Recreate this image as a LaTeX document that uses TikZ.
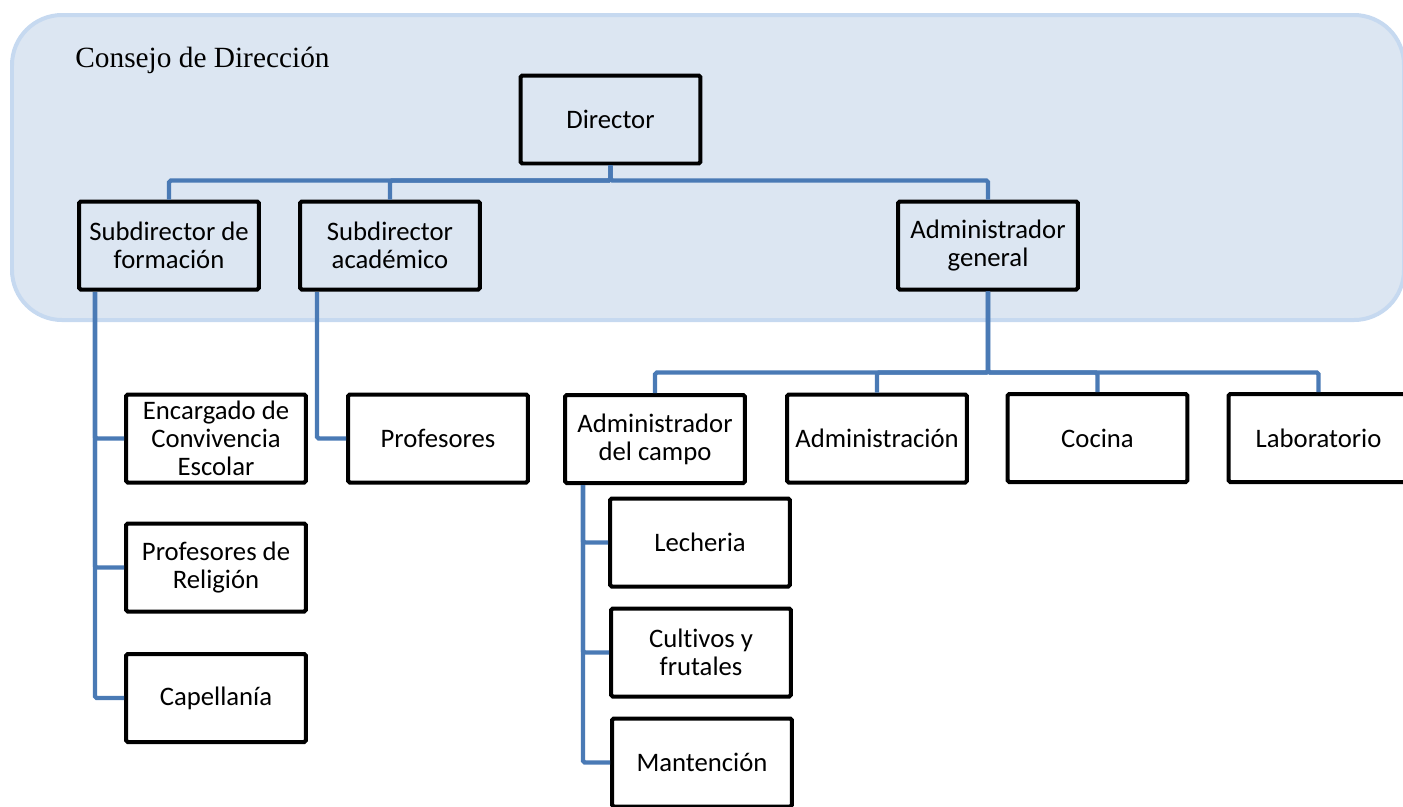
\documentclass[tikz,border=0pt]{standalone}
\usepackage{fontspec}
\setmainfont[Ligatures=NoCommon]{Carlito}
\newfontfamily\titlefont{Liberation Serif}
\usepackage{tikz}
\usetikzlibrary{positioning,calc}
\definecolor{linkblue}{RGB}{74,122,181}
\definecolor{councilfill}{RGB}{220,230,242}
\definecolor{councildraw}{RGB}{198,217,240}
\tikzstyle{box} = [draw=black, line width=0.08cm, rounded corners=1pt, minimum width=3.6cm, minimum height=1.76cm, inner sep=1pt, align=center, font=\fontsize{15.2}{16}\selectfont]
\tikzstyle{lowbox} = [box, fill=white]
\tikzstyle{link} = [draw=linkblue, line width=0.085cm, rounded corners=1pt]

\begin{document}
\begin{tikzpicture}[x=0.02cm,y=-0.02cm]
\useasboundingbox (0,0) rectangle (1403,806);
\clip (0,0) rectangle (1403,806);
% consejo de direccion
\draw[fill=councilfill, draw=councildraw, line width=0.08cm, rounded corners=1cm] (12,15) rectangle (1404,320);
\node (council) [anchor=base west, inner sep=0pt] at (75,67) {\titlefont\fontsize{16.7}{20}\selectfont Consejo de Dirección};
% top level
\node (dir) [box] at (610.5,119.5) {Director};
\node (sf) [box] at (169,245.5) {Subdirector de\\formación};
\node (sa) [box] at (390,245.5) {Subdirector\\académico};
\node (ag) [box] at (988,245.5) {Administrador\\general};
% left columns
\node (enc) [lowbox] at (216,438.5) {Encargado de\\Convivencia\\Escolar};
\node (rel) [lowbox] at (216,567.5) {Profesores de\\Religión};
\node (cap) [lowbox] at (216,698) {Capellanía};
\node (prof) [lowbox] at (438,438.5) {Profesores};
% second row
\node (ac) [lowbox] at (655,439) {Administrador\\del campo};
\node (adm) [lowbox] at (877,438.5) {Administración};
\node (coc) [lowbox] at (1097.5,438) {Cocina};
\node (lab) [lowbox] at (1318.5,438) {Laboratorio};
% campo
\node (lech) [lowbox] at (700,542.5) {Lecheria};
\node (cult) [lowbox] at (701,652.5) {Cultivos y\\frutales};
\node (mant) [lowbox] at (702,762.5) {Mantención};
% connectors
\draw[link] (dir.south) -- ++(0,15) -| (sf.north);
\draw[link] (dir.south) -- ++(0,15) -| (sa.north);
\draw[link] (dir.south) -- ++(0,15) -| (ag.north);
\coordinate (sfroot) at (95,292);
\draw[link] (sfroot) |- (enc.west);
\draw[link] (sfroot) |- (rel.west);
\draw[link] (sfroot) |- (cap.west);
\coordinate (saroot) at (317,292);
\draw[link] (saroot) |- (prof.west);
\draw[link] (ag.south) -- ++(0,81) -| (ac.north);
\draw[link] (ag.south) -- ++(0,81) -| (adm.north);
\draw[link] (ag.south) -- ++(0,81) -| (coc.north);
\draw[link] (ag.south) -- ++(0,81) -| (lab.north);
\coordinate (acroot) at (583,485);
\draw[link] (acroot) |- (lech.west);
\draw[link] (acroot) |- (cult.west);
\draw[link] (acroot) |- (mant.west);
\end{tikzpicture}
\end{document}
